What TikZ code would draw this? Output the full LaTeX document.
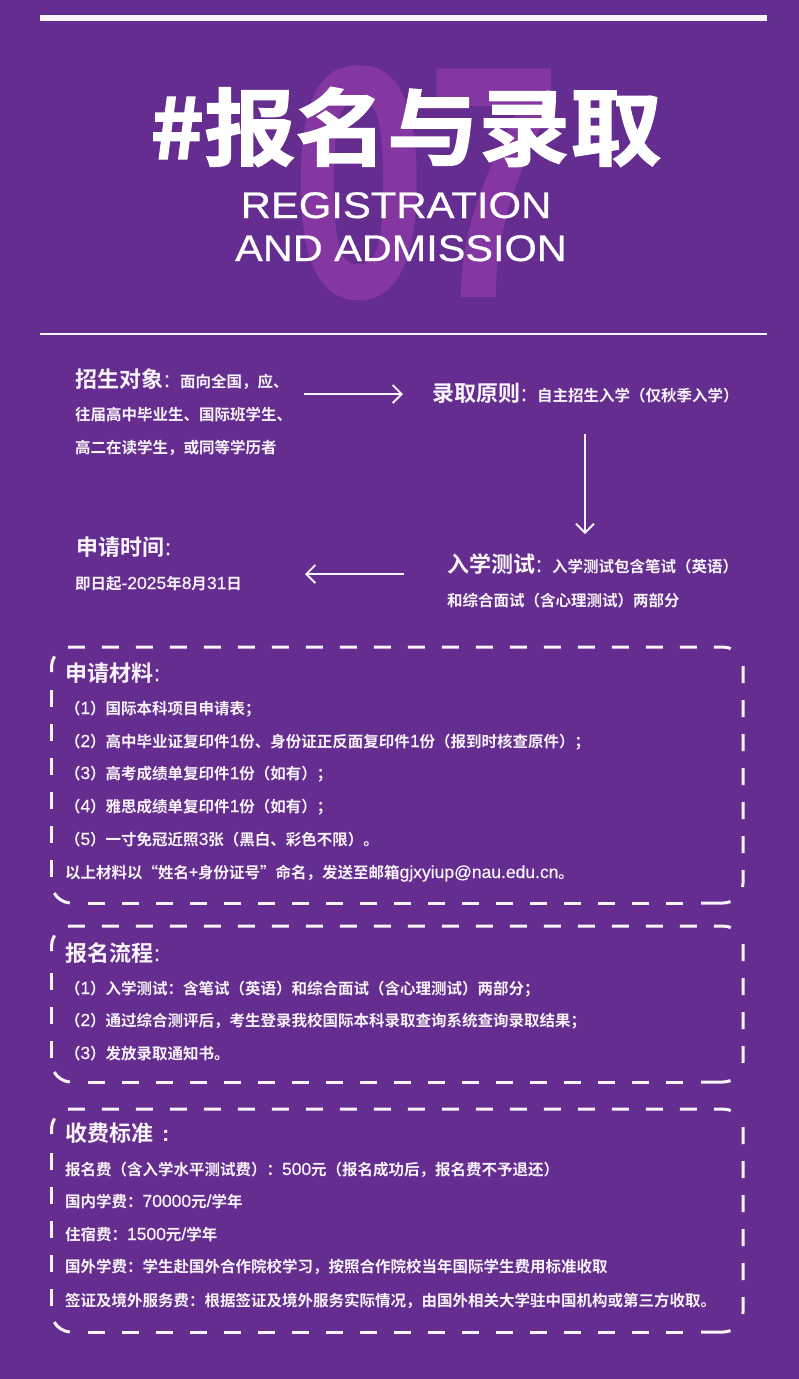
\documentclass[tikz,border=0pt]{standalone}
\usepackage{fontspec}
\setmainfont{Noto Sans CJK SC}[BoldFont={Noto Sans CJK SC Bold}]
\newfontfamily\cjk{Noto Sans CJK SC Bold}
\newfontfamily\cjkh{Noto Sans CJK SC Bold}
\newfontfamily\cjkt{Noto Sans CJK SC Bold}[FakeBold=1.5]
\newfontfamily\lat{Liberation Sans}[FakeBold=0.6]
\newfontfamily\latl{Liberation Sans}[FakeBold=0.5]
\newfontfamily\latb{Liberation Sans Bold}
\definecolor{bgc}{HTML}{642D8F}
\definecolor{seven}{HTML}{8537A1}
\definecolor{fg}{HTML}{F8F4FA}
\newcommand{\hdbare}[1]{{\cjkh\fontsize{22}{24}\selectfont #1}}
\newcommand{\hd}[1]{\makebox[105pt][l]{\hdbare{#1}{\latl\fontsize{22}{24}\selectfont\hspace{1pt}:}}}
\newcommand{\ltn}[1]{{\latl\fontsize{17.5}{17}\selectfont #1}}
\usetikzlibrary{arrows.meta}
\tikzset{
  x=1pt,y=-1pt,
  txt/.style={anchor=base west,inner sep=0pt,outer sep=0pt,text=fg,font=\cjk\fontsize{15.5}{17}\selectfont},
  arr/.style={draw=fg,line width=1.8pt,-{Straight Barb[length=9pt,width=18pt,line width=1.8pt]}},
  dbox/.style={draw=fg,line width=3pt,dash pattern=on 17pt off 17pt},
  dsolid/.style={draw=fg,line width=3pt},
}
% top y, bottom y, first straight dash of left side, first dash of right side
\newcommand{\dbx}[4]{%
  \draw[dbox] (68,#1+0.3) arc[start angle=-100,end angle=-90,radius=20] -- (723,#1) arc[start angle=-90,end angle=-60,radius=20];
  \draw[dbox] (743,#4) -- (743,#2-20) arc[start angle=0,end angle=25,radius=20];
  \draw[dbox] (88,#2) -- (695,#2);
  \draw[dsolid] (701,#2) -- (723,#2) arc[start angle=90,end angle=68,radius=20];
  \draw[dsolid] (69.8,#2) arc[start angle=95,end angle=150,radius=20];
  \draw[dbox] (51.5,#3) -- (51.5,#2-20);
  \draw[dsolid] (51.5,#1+25) -- (51.5,#1+20) arc[start angle=180,end angle=212,radius=20];
}
\begin{document}
\begin{tikzpicture}
\useasboundingbox (0,0) rectangle (799,1379);
\fill[bgc] (0,0) rectangle (799,1379);
\fill[fg] (40,15) rectangle (767,21);
\fill[fg] (40,333) rectangle (767,335);
\node[anchor=base,inner sep=0,text=seven,xscale=0.735,transform shape,font=\latb\fontsize{332}{340}\selectfont] (num) at (427,297) {07};
\node[anchor=base west,inner sep=0,text=white,yscale=0.92,transform shape,font=\cjkt\fontsize{91.5}{100}\selectfont] (title) at (150,159) {\#报名与录取};
\node[anchor=base,inner sep=0,text=white,xscale=1.13,transform shape,font=\lat\fontsize{37}{40}\selectfont] (en1) at (396,218) {REGISTRATION};
\node[anchor=base,inner sep=0,text=white,xscale=1.12,transform shape,font=\lat\fontsize{37}{40}\selectfont] (en2) at (401,261) {AND ADMISSION};
% flow
\node[txt] (a1) at (75,387) {\hd{招生对象}面向全国，应、};
\node[txt] (a2) at (75,420) {往届高中毕业生、国际班学生、};
\node[txt] (a3) at (75,453) {高二在读学生，或同等学历者};
\node[txt] (b1) at (432,401) {\hd{录取原则}自主招生入学（仅秋季入学）};
\node[txt] (c1) at (447,572) {\hd{入学测试}入学测试包含笔试（英语）};
\node[txt] (c2) at (447,606) {和综合面试（含心理测试）两部分};
\node[txt] (d1) at (76,555) {\hd{申请时间}};
\node[txt] (d2) at (75,589) {即日起\ltn{-2025}年\ltn{8}月\ltn{31}日};
\coordinate (p1) at (304,394); \coordinate (p2) at (403,394);
\coordinate (p3) at (585,434); \coordinate (p4) at (585,534);
\coordinate (p5) at (404,574); \coordinate (p6) at (305,574);
\draw[arr] (p1) -- (p2);
\draw[arr] (p3) -- (p4);
\draw[arr] (p5) -- (p6);
% box 1
\dbx{647}{903}{690}{666}
\node[txt] (m0) at (65,681) {\hd{申请材料}};
\node[txt] (m1) at (65,714) {（\ltn{1}）国际本科项目申请表；};
\node[txt] (m2) at (65,747) {（\ltn{2}）高中毕业证复印件\ltn{1}份、身份证正反面复印件\ltn{1}份（报到时核查原件）；};
\node[txt] (m3) at (65,779) {（\ltn{3}）高考成绩单复印件\ltn{1}份（如有）；};
\node[txt] (m4) at (65,812) {（\ltn{4}）雅思成绩单复印件\ltn{1}份（如有）；};
\node[txt] (m5) at (65,845) {（\ltn{5}）一寸免冠近照\ltn{3}张（黑白、彩色不限）。};
\node[txt] (m6) at (65,878) {以上材料以“姓名+身份证号”命名，发送至邮箱\ltn{gjxyiup@nau.edu.cn}。};
% box 2
\dbx{926}{1082}{973}{944}
\node[txt] (n0) at (65,961) {\hd{报名流程}};
\node[txt] (n1) at (65,994) {（\ltn{1}）入学测试：含笔试（英语）和综合面试（含心理测试）两部分；};
\node[txt] (n2) at (65,1026) {（\ltn{2}）通过综合测评后，考生登录我校国际本科录取查询系统查询录取结果；};
\node[txt] (n3) at (65,1059) {（\ltn{3}）发放录取通知书。};
% box 3
\dbx{1109}{1332}{1153}{1127}
\node[txt] (f0) at (65,1141) {\hdbare{收费标准\hspace{9pt}{\latb :}}};
\node[txt] (f1) at (65,1175) {报名费（含入学水平测试费）：\ltn{500}元（报名成功后，报名费不予退还）};
\node[txt] (f2) at (65,1207) {国内学费：\ltn{70000}元\ltn{/}学年};
\node[txt] (f3) at (65,1240) {住宿费：\ltn{1500}元\ltn{/}学年};
\node[txt] (f4) at (65,1272) {国外学费：学生赴国外合作院校学习，按照合作院校当年国际学生费用标准收取};
\node[txt] (f5) at (65,1306) {签证及境外服务费：根据签证及境外服务实际情况，由国外相关大学驻中国机构或第三方收取。};
\end{tikzpicture}
\end{document}
